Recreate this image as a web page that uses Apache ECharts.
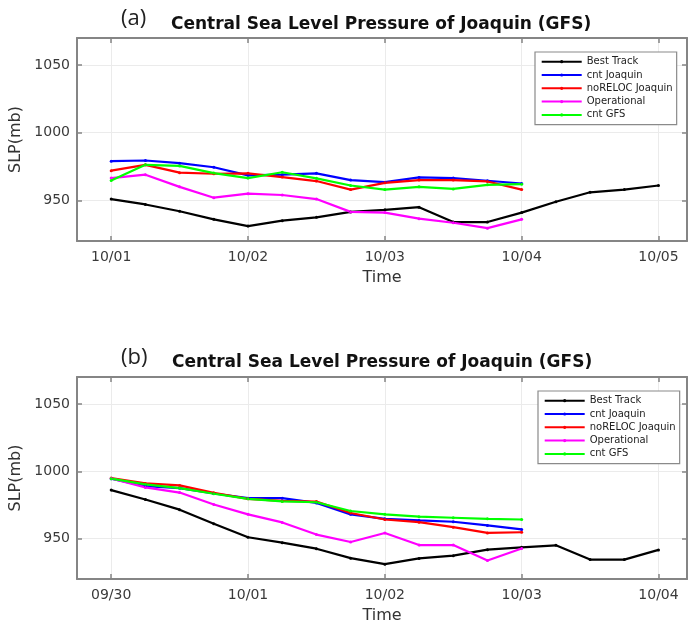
<!DOCTYPE html>
<html>
<head>
<meta charset="utf-8">
<title>Central Sea Level Pressure of Joaquin (GFS)</title>
<script src="https://cdn.jsdelivr.net/npm/echarts@6/dist/echarts.min.js"></script>
<style>
  html, body { margin: 0; padding: 0; background: #fff; }
  #chart { width: 689px; height: 628px; }
</style>
</head>
<body>
<div id="chart"></div>
<script>
// Series names (legend order)
const seriesNames = ['Best Track', 'cnt Joaquin', 'noRELOC Joaquin', 'Operational', 'cnt GFS'];
const seriesColors = ['#000000', '#0000ff', '#ff0000', '#ff00ff', '#00ff00'];

// Panel (a): hours since 10/01 00Z
const trackHoursA = [0, 6, 12, 18, 24, 30, 36, 42, 48, 54, 60, 66, 72, 78, 84, 90, 96];
const modelHoursA = [0, 6, 12, 18, 24, 30, 36, 42, 48, 54, 60, 66, 72];
const bestTrackA = [951, 947, 942, 936, 931, 935, 937.5, 941.5, 943, 945, 934, 934, 941, 949, 956, 958, 961];
const cntJoaquinA = [979, 979.5, 977.5, 974.5, 968.5, 969, 970, 965, 963.5, 967, 966.5, 964.5, 962.5];
const noRelocA = [972, 976.3, 970.5, 969.7, 970, 967.2, 964.3, 958, 963, 965, 965, 964, 958];
const operationalA = [966.5, 969, 960, 952, 955, 954, 951, 941.5, 941, 936.5, 933.5, 929.5, 936];
const cntGfsA = [964.7, 976.3, 975.5, 970.2, 966.5, 970.8, 966.3, 961, 958, 960, 958.5, 961.5, 962];
const dayLabelsA = ['10/01', '10/02', '10/03', '10/04', '10/05'];

// Panel (b): hours since 09/30 00Z
const trackHoursB = [0, 6, 12, 18, 24, 30, 36, 42, 48, 54, 60, 66, 72, 78, 84, 90, 96];
const modelHoursB = [0, 6, 12, 18, 24, 30, 36, 42, 48, 54, 60, 66, 72];
const bestTrackB = [986, 979, 971.5, 961, 951, 947, 942.5, 935.5, 931, 935.3, 937.3, 941.8, 943.5, 945, 934.4, 934.4, 941.6];
const cntJoaquinB = [994.5, 989, 987.5, 983.5, 980, 980, 976.5, 968, 964.7, 963.5, 962.5, 959.8, 956.8];
const noRelocB = [995, 991, 989.5, 984, 979.5, 978, 977.5, 969, 964.2, 962.2, 958.5, 954.2, 954.7];
const operationalB = [994.7, 988, 984.2, 975.3, 968, 962, 953, 947.5, 954.2, 945.2, 945.2, 933.8, 942.7];
const cntGfsB = [994.5, 990.3, 987.5, 983.3, 979.5, 977.6, 977, 970.5, 968, 966.3, 965.5, 964.7, 964.2];
const dayLabelsB = ['09/30', '10/01', '10/02', '10/03', '10/04'];

// Axis ticks
const dayTicks = [0, 24, 48, 72, 96];
const slpTicks = [950, 1000, 1050];

const FONT = 'DejaVu Sans';
const boxColor = '#858585';
const gridColor = '#ebebeb';

function pairs(xs, ys) { return ys.map((v, i) => [xs[i], v]); }

function xAxisFor(gridIndex, labels, bottom) {
  return {
    type: 'value', gridIndex, position: bottom ? 'bottom' : 'top',
    min: -6, max: 101,
    name: bottom ? 'Time' : '', nameLocation: 'middle', nameGap: 29,
    nameTextStyle: { fontFamily: FONT, fontSize: 16, color: '#333' },
    axisLine: { show: true, onZero: false, lineStyle: { color: boxColor, width: 2 } },
    axisTick: { show: true, inside: true, length: 5, customValues: dayTicks, lineStyle: { color: boxColor, width: 1.5 } },
    axisLabel: {
      show: bottom, customValues: dayTicks, margin: 9,
      fontFamily: FONT, fontSize: 14, color: '#3a3a3a',
      formatter: v => labels[Math.round(v / 24)]
    },
    splitLine: { show: bottom, lineStyle: { color: gridColor, width: 1 } }
  };
}

function yAxisFor(gridIndex, left) {
  return {
    type: 'value', gridIndex, position: left ? 'left' : 'right',
    min: 920, max: 1070,
    name: left ? 'SLP(mb)' : '', nameLocation: 'middle', nameGap: 50,
    nameTextStyle: { fontFamily: FONT, fontSize: 16, color: '#333' },
    axisLine: { show: true, onZero: false, lineStyle: { color: boxColor, width: 2 } },
    axisTick: { show: true, inside: true, length: 5, customValues: slpTicks, lineStyle: { color: boxColor, width: 1.5 } },
    axisLabel: {
      show: left, customValues: slpTicks, margin: 7,
      fontFamily: FONT, fontSize: 14, color: '#3a3a3a',
      formatter: v => String(v)
    },
    splitLine: { show: left, lineStyle: { color: gridColor, width: 1 } }
  };
}

function lineSeries(name, idx, axisIndex, data) {
  return {
    type: 'line', name, xAxisIndex: axisIndex, yAxisIndex: axisIndex,
    data, showSymbol: true, symbol: 'circle', symbolSize: 3,
    itemStyle: { color: seriesColors[idx] },
    lineStyle: { color: seriesColors[idx], width: 2.2 },
    animation: false, silent: true
  };
}

function legendFor(left, top) {
  return {
    orient: 'vertical', left, top,
    data: seriesNames,
    itemWidth: 40, itemHeight: 4, itemGap: 3.3,
    padding: [4.7, 4, 4.7, 5.7],
    backgroundColor: '#fff', borderColor: '#8a8a8a', borderWidth: 1.2, borderRadius: 0,
    textStyle: { fontFamily: FONT, fontSize: 10, color: '#222', lineHeight: 10 },
    selectedMode: false
  };
}

const panelA = [bestTrackA, cntJoaquinA, noRelocA, operationalA, cntGfsA];
const panelB = [bestTrackB, cntJoaquinB, noRelocB, operationalB, cntGfsB];

const series = [];
panelA.forEach((vals, i) => series.push(lineSeries(seriesNames[i], i, 0, pairs(i === 0 ? trackHoursA : modelHoursA, vals))));
panelB.forEach((vals, i) => series.push(lineSeries(seriesNames[i], i, 1, pairs(i === 0 ? trackHoursB : modelHoursB, vals))));

const option = {
  backgroundColor: '#fff',
  animation: false,
  title: [
    { text: '(a)', left: 121, top: 8, padding: 0, textStyle: { fontFamily: 'Open Sans', fontWeight: 'normal', fontSize: 22, color: '#222' } },
    { text: 'Central Sea Level Pressure of Joaquin (GFS)', left: 171, top: 16, padding: 0, textStyle: { fontFamily: FONT, fontWeight: 'bold', fontSize: 17, color: '#111' } },
    { text: '(b)', left: 121, top: 347, padding: 0, textStyle: { fontFamily: 'Open Sans', fontWeight: 'normal', fontSize: 22, color: '#222' } },
    { text: 'Central Sea Level Pressure of Joaquin (GFS)', left: 172, top: 354, padding: 0, textStyle: { fontFamily: FONT, fontWeight: 'bold', fontSize: 17, color: '#111' } }
  ],
  legend: [legendFor(535, 52), legendFor(538, 391)],
  grid: [
    { left: 77, top: 38, width: 610, height: 203, containLabel: false, outerBoundsMode: 'none' },
    { left: 77, top: 377, width: 610, height: 202, containLabel: false, outerBoundsMode: 'none' }
  ],
  xAxis: [
    xAxisFor(0, dayLabelsA, true),
    xAxisFor(1, dayLabelsB, true),
    xAxisFor(0, dayLabelsA, false),
    xAxisFor(1, dayLabelsB, false)
  ],
  yAxis: [
    yAxisFor(0, true),
    yAxisFor(1, true),
    yAxisFor(0, false),
    yAxisFor(1, false)
  ],
  series
};

const chart = echarts.init(document.getElementById('chart'), null, { renderer: 'canvas' });
chart.setOption(option);
</script>
</body>
</html>
